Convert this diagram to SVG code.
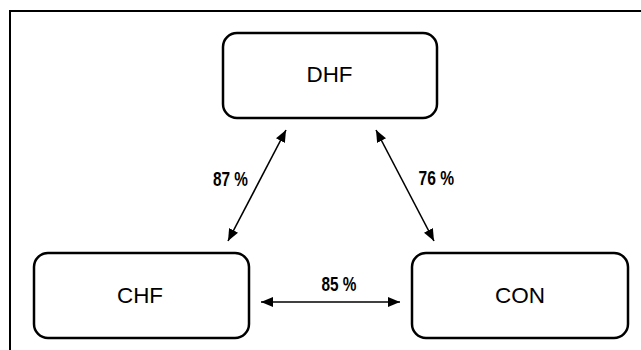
<svg xmlns="http://www.w3.org/2000/svg" width="641" height="350" viewBox="0 0 641 350">
<style>
.box{fill:#fff;stroke:#000;stroke-width:2.5}
.lbl{font-family:"Liberation Sans",Arial,sans-serif;font-size:22px;text-anchor:middle;fill:#000}
.pct{font-family:"Liberation Sans",Arial,sans-serif;font-size:20px;font-weight:bold;fill:#000}
.conn{stroke:#000;stroke-width:1.6;fill:none}
</style>
<defs>
<marker id="ah" markerUnits="userSpaceOnUse" markerWidth="14" markerHeight="12" refX="12" refY="6" orient="auto-start-reverse">
<path d="M0,1 L12,6 L0,11 Z" fill="#000"/>
</marker>
</defs>
<rect x="0" y="0" width="641" height="350" fill="#fff"/>
<rect x="10" y="11" width="700" height="400" fill="none" stroke="#000" stroke-width="2"/>
<g id="DHF">
<rect class="box" x="223" y="33" width="214" height="85" rx="14"/>
<text class="lbl" x="329.5" y="82" textLength="46" lengthAdjust="spacingAndGlyphs">DHF</text>
</g>
<g id="CHF">
<rect class="box" x="34" y="253" width="215" height="85" rx="14"/>
<text class="lbl" x="140" y="302.5" textLength="46" lengthAdjust="spacingAndGlyphs">CHF</text>
</g>
<g id="CON">
<rect class="box" x="412" y="253" width="216" height="85" rx="14"/>
<text class="lbl" x="520" y="303" textLength="50" lengthAdjust="spacingAndGlyphs">CON</text>
</g>
<g id="connectors">
<line class="conn" x1="286" y1="130" x2="228" y2="241" marker-start="url(#ah)" marker-end="url(#ah)"/>
<line class="conn" x1="376" y1="130" x2="434" y2="241" marker-start="url(#ah)" marker-end="url(#ah)"/>
<line class="conn" x1="261" y1="302" x2="400" y2="302" marker-start="url(#ah)" marker-end="url(#ah)"/>
<text class="pct" x="213" y="185.5" textLength="35" lengthAdjust="spacingAndGlyphs">87 %</text>
<text class="pct" x="418.5" y="185" textLength="35.5" lengthAdjust="spacingAndGlyphs">76 %</text>
<text class="pct" x="321.5" y="290.5" textLength="35" lengthAdjust="spacingAndGlyphs">85 %</text>
</g>
</svg>
